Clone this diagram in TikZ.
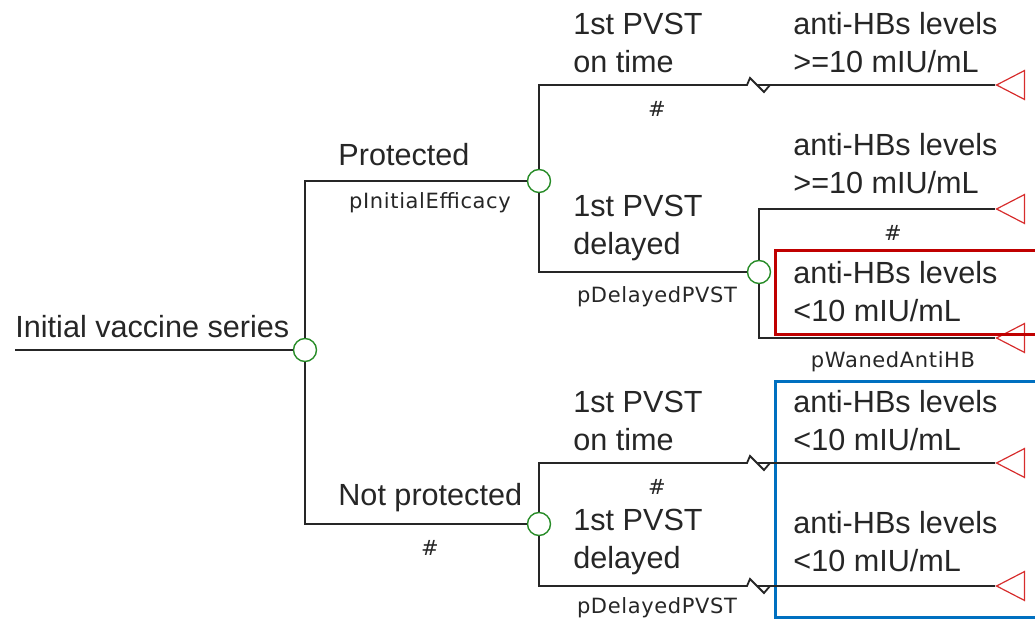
\documentclass[tikz,border=0pt]{standalone}
\usepackage{fontspec}
\setmainfont{Liberation Sans}
\newfontfamily\probfont[LetterSpace=3]{DejaVu Sans}
\usepackage{tikz}
\usetikzlibrary{shapes.geometric}
\definecolor{chancegreen}{RGB}{40,140,40}
\definecolor{termred}{RGB}{215,45,45}
\definecolor{boxred}{RGB}{192,0,0}
\definecolor{boxblue}{RGB}{0,112,192}
\tikzset{
  chance/.style = {circle, draw=chancegreen, line width=0.7pt, fill=white,
    minimum size=11.5pt, inner sep=0pt},% chance node
  term/.style = {isosceles triangle, isosceles triangle stretches,
    shape border rotate=180, draw=termred, line width=0.6pt, anchor=apex,
    minimum width=14.5pt, minimum height=14pt, inner sep=0pt},% terminal node
  branch/.style = {draw=black!85, line width=0.9pt},
  blabel/.style = {anchor=west, align=left, inner sep=0pt, text=black!85,
    font=\fontsize{15.3}{19}\selectfont},% branch name
  plabel/.style = {inner sep=0pt, text=black!85,
    font=\probfont\fontsize{10.5}{12}\selectfont},% probability
  hilite/.style = {line width=1.5pt},
}
% broken-line mark
\newcommand{\brk}{-- ++(3,-7) -- ++(14,14) -- ++(6,-7) -- ++(-13,0) -- ++(13,0)}

\begin{document}
\begin{tikzpicture}[x=0.5pt, y=-0.5pt]
  \useasboundingbox (0,0) rectangle (1035,625);

  \coordinate (start) at (15,350);
  \node[chance] (cR) at (305,350) {};
  \node[chance] (cP) at (539,181) {};
  \node[chance] (cN) at (539,524) {};
  \node[chance] (cD) at (759,272) {};
  \foreach \n/\y in {1/85, 2/209, 3/338, 4/463, 5/586}
  \node[term] (t\n) at (995,\y) {};
  \foreach \n/\y in {1/85, 4/463, 5/586}
  \coordinate (k\n) at (747,\y);

  % highlight boxes
  \draw[hilite, boxred] (775,251) rectangle (1045,335);
  \draw[hilite, boxblue] (775,382) rectangle (1045,618);

  % branches
  \draw[branch] (start) -- (cR);
  \draw[branch] (cR) |- (cP);
  \draw[branch] (cR) |- (cN);
  \draw[branch] (cP) |- (k1) \brk -- (t1.apex);
  \draw[branch] (cP) |- (cD);
  \draw[branch] (cD) |- (t2.apex);
  \draw[branch] (cD) |- (t3.apex);
  \draw[branch] (cN) |- (k4) \brk -- (t4.apex);
  \draw[branch] (cN) |- (k5) \brk -- (t5.apex);

  % branch names
  \node[blabel] (lR) at (15,327) {Initial vaccine series};
  \node[blabel] (lP) at (338,155) {Protected};
  \node[blabel] (lN) at (338,498) {Not protected};
  \node[blabel] (lPo) at (573,43) {1st PVST\\on time};
  \node[blabel] (lPd) at (573,228) {1st PVST\\delayed};
  \node[blabel] (lNo) at (573,421) {1st PVST\\on time};
  \node[blabel] (lNd) at (573,542) {1st PVST\\delayed};
  \node[blabel] (l1) at (793,43) {anti-HBs levels\\>=10 mIU/mL};
  \node[blabel] (l2) at (793,164) {anti-HBs levels\\>=10 mIU/mL};
  \node[blabel] (l3) at (793,292) {anti-HBs levels\\<10 mIU/mL};
  \node[blabel] (l4) at (793,421) {anti-HBs levels\\<10 mIU/mL};
  \node[blabel] (l5) at (793,542) {anti-HBs levels\\<10 mIU/mL};

  % probabilities
  \node[plabel] (pP) at (430,203) {pInitialEfficacy};
  \node[plabel] (pN) at (430,548) {\#};
  \node[plabel] (pPo) at (657,109) {\#};
  \node[plabel] (pPd) at (657,297) {pDelayedPVST};
  \node[plabel] (pNo) at (657,487) {\#};
  \node[plabel] (pNd) at (657,608) {pDelayedPVST};
  \node[plabel] (p2) at (893,233) {\#};
  \node[plabel] (p3) at (893,362) {pWanedAntiHB};
\end{tikzpicture}
\end{document}
